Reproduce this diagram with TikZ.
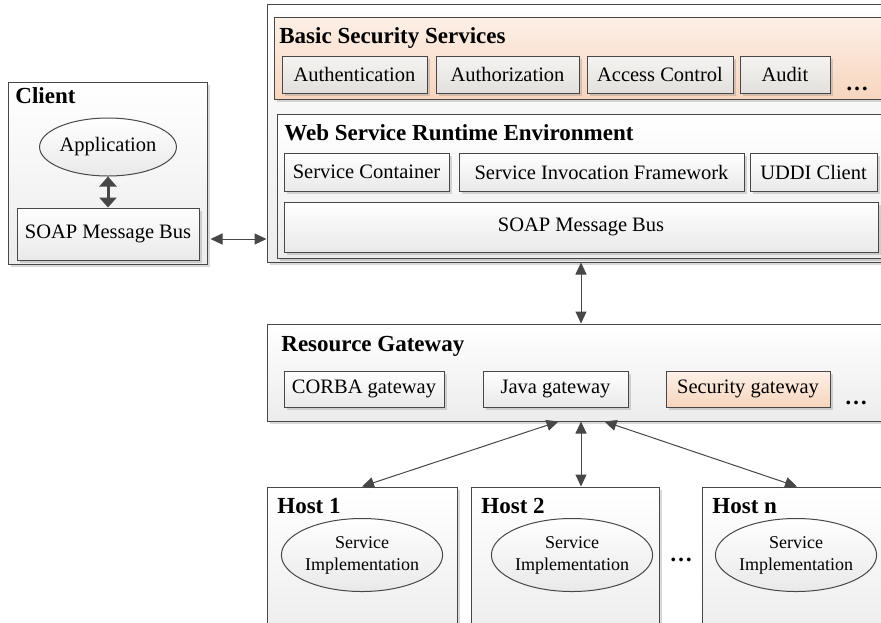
\documentclass[tikz,border=0pt]{standalone}
\usepackage{fontspec}
\setmainfont{Liberation Serif}
\usetikzlibrary{arrows.meta,shapes.geometric,shadows}
\definecolor{edgegray}{HTML}{474747}
\definecolor{framebot}{HTML}{ECECEC}
\definecolor{itemtop}{HTML}{F6F4F2}
\definecolor{itembot}{HTML}{E2DFDC}
\definecolor{plainbot}{HTML}{E9E9E9}
\definecolor{peachtop}{HTML}{FDF0E7}
\definecolor{peachbot}{HTML}{F7D5BE}
\tikzset{
	frame/.style={draw=edgegray,line width=0.5pt,top color=white,bottom color=framebot,inner sep=0pt,
		drop shadow={shadow xshift=1.5pt,shadow yshift=-1.5pt,opacity=0.3}},
	peach/.style={frame,top color=peachtop,bottom color=peachbot},
	item/.style={frame,top color=itemtop,bottom color=itembot},
	plainitem/.style={frame,top color=white,bottom color=plainbot},
	oval/.style={ellipse,draw=edgegray,line width=0.5pt,top color=white,bottom color=plainbot,inner sep=0pt},
	title/.style={anchor=base west,inner sep=0pt,font=\fontsize{11.5}{13}\selectfont\bfseries},
	dots/.style={inner sep=0pt,font=\fontsize{11.5}{13}\selectfont\bfseries},
	link/.style={{Triangle[length=6pt,width=5.5pt]}-{Triangle[length=6pt,width=5.5pt]},draw=edgegray,line width=0.5pt},
	fatlink/.style={{Triangle[length=5pt,width=8.5pt]}-{Triangle[length=5pt,width=8.5pt]},draw=edgegray,line width=1.5pt}
}
\begin{document}
\begin{tikzpicture}[x=0.5pt,y=-0.5pt,font=\fontsize{10.25}{12}\selectfont]
	\useasboundingbox (0,0) rectangle (881,622);
	% client
	\node[frame,minimum width=99.5pt,minimum height=91pt] (client) at (107.5,173) {};
	\node[title] (clienttitle) at (15,103) {Client};
	\node[oval,minimum width=67.5pt,minimum height=29pt] (app) at (108,147) {Application};
	\node[plainitem,minimum width=91pt,minimum height=26pt] (clientbus) at (108,234) {SOAP Message Bus};
	\draw[fatlink] (app) -- (clientbus);
	% server
	\node[frame,minimum width=309.5pt,minimum height=129pt] (server) at (576.5,133) {};
	\node[peach,minimum width=304.5pt,minimum height=41pt] (basic) at (578.5,58) {};
	\node[title] (basictitle) at (279,43) {Basic Security Services};
	\node[item,minimum width=72.5pt,minimum height=18.5pt] (authn) at (354.5,74.5) {Authentication};
	\node[item,minimum width=71.5pt,minimum height=18.5pt] (authz) at (507.5,74.5) {Authorization};
	\node[item,minimum width=73pt,minimum height=18.5pt] (access) at (660,74.5) {Access Control};
	\node[item,minimum width=45pt,minimum height=18.5pt] (audit) at (785,74.5) {Audit};
	\node[dots,anchor=base] (basicdots) at (857,90) {…};
	\node[frame,minimum width=303.5pt,minimum height=72pt] (runtime) at (580.5,186) {};
	\node[title] (runtimetitle) at (284,140) {Web Service Runtime Environment};
	\node[plainitem,minimum width=82.5pt,minimum height=19pt] (container) at (366.5,172) {Service Container};
	\node[plainitem,minimum width=142.5pt,minimum height=19pt] (invoke) at (601.5,172) {Service Invocation Framework};
	\node[plainitem,minimum width=63.5pt,minimum height=19pt] (uddi) at (813.5,172) {UDDI Client};
	\node[plainitem,minimum width=297pt,minimum height=25pt] (serverbus) at (581,227) {SOAP Message Bus};
	\draw[link] ([xshift=1.5pt,yshift=-2.5pt]clientbus.east -| client.east) -- ([yshift=-2.5pt]clientbus.east -| server.west);
	% gateway
	\node[frame,minimum width=309.5pt,minimum height=48.5pt] (gateway) at (576.5,372.5) {};
	\node[title] (gatewaytitle) at (281,351) {Resource Gateway};
	\node[plainitem,minimum width=80pt,minimum height=18pt] (corba) at (364,389) {CORBA gateway};
	\node[plainitem,minimum width=72.5pt,minimum height=18pt] (java) at (555.5,389) {Java gateway};
	\node[peach,minimum width=82pt,minimum height=18pt] (secgw) at (748,389) {Security gateway};
	\node[dots,anchor=base] (gatewaydots) at (856,404) {…};
	\draw[link] (serverbus.south |- server.south) -- (serverbus.south |- gateway.north);
	% hosts
	\foreach \n/\x/\w/\ex in {1/362/95/362,2/565/94/572,n/797/95/796}{
		\node[frame,minimum width=\w pt,minimum height=76.5pt] (host\n) at (\x,563.5) {};
		\node[title] (hosttitle\n) at ({\x-\w+10},513) {Host \n};
		\node[oval,minimum width=68.5pt,minimum height=36.5pt,align=center,font=\fontsize{9}{11}\selectfont] (impl\n) at (\ex,555) {Service\\Implementation};
	}
	\node[dots] (hostdots) at (681,560) {…};
	\draw[link] ([xshift=-9pt]gateway.south) -- (host1.north);
	\draw[link] (gateway.south -| serverbus.south) -- (host2.north -| serverbus.south);
	\draw[link] ([xshift=14pt]gateway.south) -- (hostn.north);
\end{tikzpicture}
\end{document}
